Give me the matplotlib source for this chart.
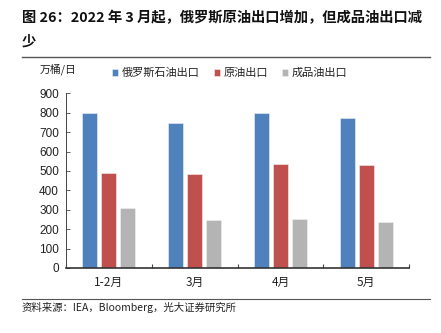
import matplotlib
matplotlib.use("Agg")
import matplotlib.pyplot as plt
import numpy as np

plt.rcParams['font.family'] = ['Noto Sans CJK SC', 'DejaVu Sans']

categories = ['1-2月', '3月', '4月', '5月']
series_names = ['俄罗斯石油出口', '原油出口', '成品油出口']
total_exports = [800, 746, 800, 771]
crude_exports = [488, 483, 538, 531]
product_exports = [309, 247, 252, 237]
colors = ['#4F81BD', '#C0504D', '#B4B4B4']
y_ticks = [0, 100, 200, 300, 400, 500, 600, 700, 800, 900]

W, H = 441, 333
fig = plt.figure(figsize=(W / 100, H / 100), dpi=100)

# plot area in pixel coordinates
left, right, top, bottom = 66, 409, 93.3, 268
ax = fig.add_axes([left / W, 1 - bottom / H, (right - left) / W, (bottom - top) / H])

x = np.arange(len(categories))
width = 0.175
step = 0.222
for i, (vals, c) in enumerate(zip([total_exports, crude_exports, product_exports], colors)):
    ax.bar(x + (i - 1) * step, vals, width=width, color=c, edgecolor='#f2f2f2',
           linewidth=0.4, label=series_names[i], zorder=2)

ax.set_xlim(-0.5, len(categories) - 0.5)
ax.set_ylim(0, 900)
ax.set_yticks(y_ticks)
ax.set_yticklabels([str(v) for v in y_ticks], fontsize=8.5, color='#222222',
                   family=['Liberation Sans', 'DejaVu Sans'])
ax.set_xticks(x)
ax.set_xticklabels(categories, fontsize=8.5, color='#222222')
ax.tick_params(axis='x', length=0, pad=6)
ax.tick_params(axis='y', direction='in', length=3, width=0.6, color='#444444', pad=5)
# category separators on the x axis
ax.set_xticks(np.arange(len(categories) + 1) - 0.5, minor=True)
ax.tick_params(axis='x', which='minor', direction='in', length=3, width=0.8, color='#444444')

for s in ['top', 'right']:
    ax.spines[s].set_visible(False)
ax.spines['left'].set_color('#444444')
ax.spines['left'].set_linewidth(0.7)
ax.spines['bottom'].set_color('#333333')
ax.spines['bottom'].set_linewidth(1.2)

# title
fig.text(22 / W, 1 - 18 / H, '图 26：2022 年 3 月起，俄罗斯原油出口增加，但成品油出口减',
         fontsize=10.3, fontweight='bold', ha='left', va='center', color='#111111')
fig.text(22 / W, 1 - 42 / H, '少', fontsize=10.3, fontweight='bold', ha='left',
         va='center', color='#111111')
fig.add_artist(plt.Line2D([22 / W, 430 / W], [1 - 57 / H, 1 - 57 / H],
                          color='#555555', linewidth=1.0))

# unit label
fig.text(40 / W, 1 - 69 / H, '万桶/日', fontsize=7.8, ha='left', va='center', color='#222222')

# legend
leg = fig.legend(loc='center left', bbox_to_anchor=(112 / W, 1 - 73 / H), ncol=3,
                 frameon=False, fontsize=8, handlelength=0.55, handleheight=0.55,
                 handletextpad=0.3, columnspacing=1.3, borderaxespad=0, borderpad=0)
for t in leg.get_texts():
    t.set_color('#222222')

# footer
fig.add_artist(plt.Line2D([22 / W, 430 / W], [1 - 299 / H, 1 - 299 / H],
                          color='#555555', linewidth=0.8))
fig.text(22 / W, 1 - 307 / H, '资料来源：IEA，Bloomberg，光大证券研究所', fontsize=7.5,
         ha='left', va='center', color='#222222')

fig.savefig('out.png', dpi=100)
